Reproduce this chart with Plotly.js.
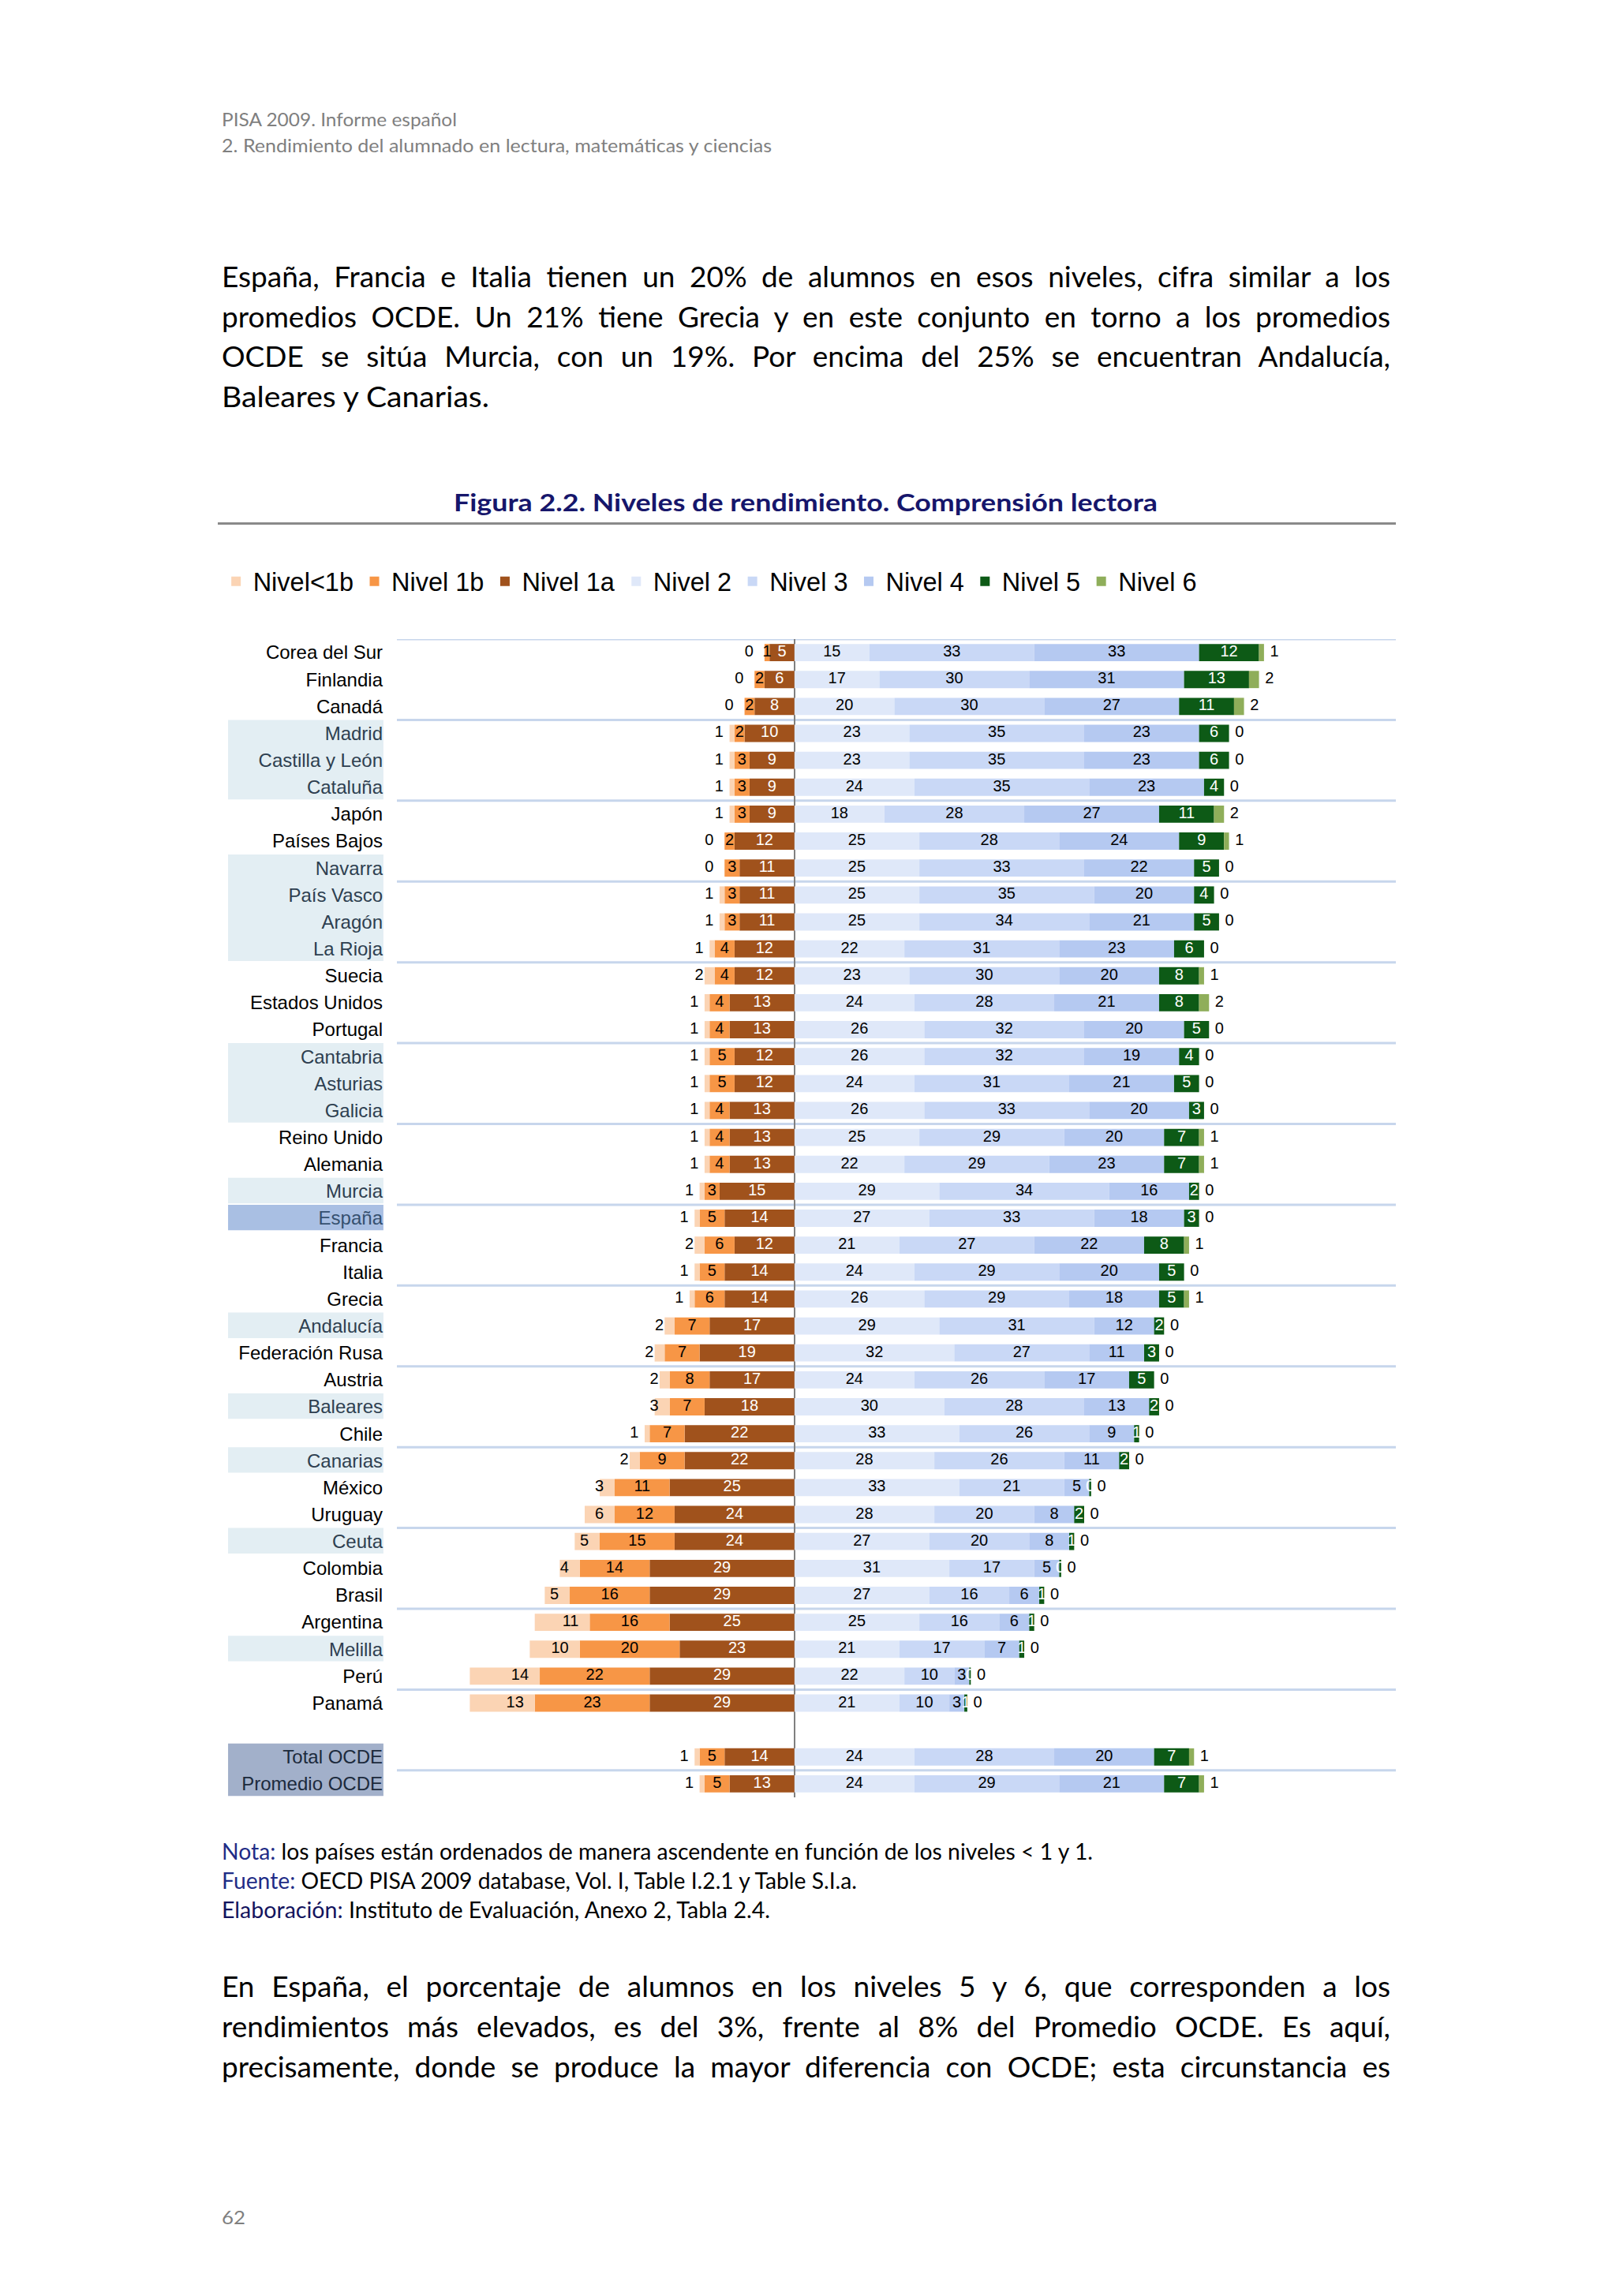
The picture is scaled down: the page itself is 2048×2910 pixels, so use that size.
<!DOCTYPE html>
<html>
<head>
<meta charset="utf-8">
<script src="https://cdn.plot.ly/plotly-3.0.1.min.js"></script>
<style>
  html, body { margin: 0; padding: 0; background: #fff; }
  #page { position: relative; width: 2048px; height: 2910px; overflow: hidden; background: #fff; font-family: Lato, "Open Sans", sans-serif; }
  .t { position: absolute; white-space: nowrap; line-height: 1; }
  #chart { position: absolute; left: 0; top: 690px; width: 2048px; height: 1620px; }
  #rule { position: absolute; left: 276px; top: 662px; width: 1493px; height: 3px; background: #8a8a8a; }
</style>
</head>
<body>
<div id="page">
  <div id="rule"></div>
  <div id="chart"></div>
</div>
<script>
// ---------------- DATA ----------------
const categories = [
  "Corea del Sur","Finlandia","Canadá","Madrid","Castilla y León","Cataluña","Japón","Países Bajos",
  "Navarra","País Vasco","Aragón","La Rioja","Suecia","Estados Unidos","Portugal","Cantabria",
  "Asturias","Galicia","Reino Unido","Alemania","Murcia","España","Francia","Italia","Grecia",
  "Andalucía","Federación Rusa","Austria","Baleares","Chile","Canarias","México","Uruguay","Ceuta",
  "Colombia","Brasil","Argentina","Melilla","Perú","Panamá","","Total OCDE","Promedio OCDE"
];
// kind of row label: c = country, r = Spanish region, e = España, o = OCDE
const rowKind = [
  "c","c","c","r","r","r","c","c","r","r","r","r","c","c","c","r","r","r","c","c","r","e","c","c","c",
  "r","c","c","r","c","r","c","c","r","c","c","c","r","c","c","c","o","o"
];
const nivelMenos1b = [0,0,0,1,1,1,1,0,0,1,1,1,2,1,1,1,1,1,1,1,1,1,2,1,1,2,2,2,3,1,2,3,6,5,4,5,11,10,14,13,null,1,1];
const nivel1b      = [1,2,2,2,3,3,3,2,3,3,3,4,4,4,4,5,5,4,4,4,3,5,6,5,6,7,7,8,7,7,9,11,12,15,14,16,16,20,22,23,null,5,5];
const nivel1a      = [5,6,8,10,9,9,9,12,11,11,11,12,12,13,13,12,12,13,13,13,15,14,12,14,14,17,19,17,18,22,22,25,24,24,29,29,25,23,29,29,null,14,13];
const nivel2       = [15,17,20,23,23,24,18,25,25,25,25,22,23,24,26,26,24,26,25,22,29,27,21,24,26,29,32,24,30,33,28,33,28,27,31,27,25,21,22,21,null,24,24];
const nivel3       = [33,30,30,35,35,35,28,28,33,35,34,31,30,28,32,32,31,33,29,29,34,33,27,29,29,31,27,26,28,26,26,21,20,20,17,16,16,17,10,10,null,28,29];
const nivel4       = [33,31,27,23,23,23,27,24,22,20,21,23,20,21,20,19,21,20,20,23,16,18,22,20,18,12,11,17,13,9,11,5,8,8,5,6,6,7,3,3,null,20,21];
const nivel5       = [12,13,11,6,6,4,11,9,5,4,5,6,8,8,5,4,5,3,7,7,2,3,8,5,5,2,3,5,2,1,2,0.4,2,1,0.4,1,1,1,0.3,0.6,null,7,7];
const nivel6       = [1,2,2,0,0,0,2,1,0,0,0,0,1,2,0,0,0,0,1,1,0,0,1,0,1,0,0,0,0,0,0,0,0,0,0,0,0,0,0,0,null,1,1];
const seriesNames  = ["Nivel<1b","Nivel 1b","Nivel 1a","Nivel 2","Nivel 3","Nivel 4","Nivel 5","Nivel 6"];

// ---------------- STYLE ----------------
const colors = {
  lt1b: "#fbd4b4", n1b: "#f79646", n1a: "#a0521c",
  n2: "#dfe8f9", n3: "#c9d8f6", n4: "#b5c9f1", n5: "#0d5a16", n6: "#8fae5a"
};
const labelColor = { c: "#000000", r: "#2e3f50", e: "#35506f", o: "#1c2a3c" };
const boxColor = { r: "#e3eef3", e: "#a9bfe3", o: "#a2b0ca" };
const chartFont = "Liberation Sans, Arial, sans-serif";

const yIdx = categories.map((_, i) => i + 1);
const neg = arr => arr.map(v => v == null ? null : -v);

function barTrace(name, xs, color, rank) {
  return {
    type: "bar", orientation: "h", name: name, x: xs, y: yIdx,
    marker: { color: color, line: { width: 0 } },
    textposition: "none", hoverinfo: "skip", legendrank: rank
  };
}

const traces = [
  barTrace(seriesNames[2], neg(nivel1a), colors.n1a, 3),
  barTrace(seriesNames[1], neg(nivel1b), colors.n1b, 2),
  barTrace(seriesNames[0], neg(nivelMenos1b), colors.lt1b, 1),
  barTrace(seriesNames[3], nivel2, colors.n2, 4),
  barTrace(seriesNames[4], nivel3, colors.n3, 5),
  barTrace(seriesNames[5], nivel4, colors.n4, 6),
  barTrace(seriesNames[6], nivel5, colors.n5, 7),
  barTrace(seriesNames[7], nivel6, colors.n6, 8)
];

// value labels, positioned from the data
const dark = { x: [], y: [], t: [] }, white = { x: [], y: [], t: [] };
const leftL = { x: [], y: [], t: [] }, rightL = { x: [], y: [], t: [] };
const lab = v => String(Math.round(v));
for (let i = 0; i < categories.length; i++) {
  if (nivel1a[i] == null) continue;
  const y = yIdx[i];
  const a = nivel1a[i], b = nivel1b[i], c = nivelMenos1b[i];
  white.x.push(-a / 2); white.y.push(y); white.t.push(lab(a));
  dark.x.push(-(a + b / 2)); dark.y.push(y); dark.t.push(lab(b));
  leftL.x.push(-(a + b) - 2.2); leftL.y.push(y); leftL.t.push(lab(c));
  const p2 = nivel2[i], p3 = nivel3[i], p4 = nivel4[i], p5 = nivel5[i], p6 = nivel6[i];
  dark.x.push(p2 / 2); dark.y.push(y); dark.t.push(lab(p2));
  dark.x.push(p2 + p3 / 2); dark.y.push(y); dark.t.push(lab(p3));
  dark.x.push(p2 + p3 + p4 / 2); dark.y.push(y); dark.t.push(lab(p4));
  white.x.push(p2 + p3 + p4 + p5 / 2); white.y.push(y); white.t.push(lab(p5));
  rightL.x.push(p2 + p3 + p4 + p5 + p6 + 1.2); rightL.y.push(y); rightL.t.push(lab(p6));
}
function textTrace(d, pos, color) {
  return {
    type: "scatter", mode: "text", x: d.x, y: d.y, text: d.t, textposition: pos,
    textfont: { family: chartFont, size: 20, color: color },
    showlegend: false, hoverinfo: "skip", cliponaxis: false
  };
}
traces.push(textTrace(dark, "middle center", "#000000"));
traces.push(textTrace(white, "middle center", "#ffffff"));
traces.push(textTrace(leftL, "middle left", "#000000"));
traces.push(textTrace(rightL, "middle right", "#000000"));

// shapes: separators every 3 rows, highlight boxes behind region labels
const shapes = [];
for (let k = 0; k <= 42; k += 3) {
  shapes.push({ type: "line", xref: "paper", yref: "y", x0: 0, x1: 1, y0: k + 0.5, y1: k + 0.5,
    line: { color: "#c7d6ec", width: 3 }, layer: "below" });
}
const boxX0 = -0.169, boxX1 = -0.0135;
let i0 = 0;
while (i0 < rowKind.length) {
  const k = rowKind[i0];
  if (k === "c") { i0++; continue; }
  let i1 = i0;
  while (i1 + 1 < rowKind.length && rowKind[i1 + 1] === k) i1++;
  shapes.push({ type: "rect", xref: "paper", yref: "y", x0: boxX0, x1: boxX1,
    y0: yIdx[i0] - 0.5, y1: yIdx[i1] + 0.45, fillcolor: boxColor[k], line: { width: 0 }, layer: "below" });
  i0 = i1 + 1;
}

const tickText = categories.map((c, i) => c === "" ? "" : '<span style="color:' + labelColor[rowKind[i]] + '">' + c + '</span>');

const layout = {
  width: 2048, height: 1620,
  margin: { l: 503, r: 279, t: 120, b: 32 },
  paper_bgcolor: "rgba(0,0,0,0)", plot_bgcolor: "rgba(0,0,0,0)",
  barmode: "relative", bargap: 0.36,
  font: { family: chartFont, color: "#000" },
  xaxis: { range: [-79.6, 120.4], showgrid: false, showticklabels: false, ticks: "",
           zeroline: true, zerolinecolor: "#808080", zerolinewidth: 2, fixedrange: true },
  yaxis: { range: [43.5, 0.5], tickmode: "array", tickvals: yIdx, ticktext: tickText,
           showgrid: false, zeroline: false, ticks: "", ticklabelstandoff: 17,
           tickfont: { family: chartFont, size: 24, color: "#000" }, fixedrange: true },
  showlegend: true,
  legend: { orientation: "h", x: -0.178, xanchor: "left", y: 1.0497, yanchor: "middle",
            font: { family: chartFont, size: 32.5, color: "#000" }, traceorder: "normal",
            itemwidth: 33, itemclick: false, itemdoubleclick: false, bgcolor: "rgba(0,0,0,0)" },
  shapes: shapes
};

Plotly.newPlot("chart", traces, layout, { staticPlot: true, displayModeBar: false });

// ---------------- PAGE TEXT ----------------
const page = document.getElementById("page");
function place(html, left, cy, size, opt) {
  opt = opt || {};
  const d = document.createElement("div");
  d.className = "t";
  d.style.left = left + "px";
  d.style.fontSize = size + "px";
  d.style.color = opt.color || "#000";
  if (opt.bold) d.style.fontWeight = "700";
  d.innerHTML = html;
  page.appendChild(d);
  const r = d.getBoundingClientRect();
  d.style.top = (cy - r.height / 2) + "px";
  if (opt.width) {
    const w = r.width;
    const spaces = (d.textContent.match(/ /g) || []).length;
    if (opt.justify && w < opt.width && spaces > 0) {
      d.style.wordSpacing = ((opt.width - w) / spaces) + "px";
    } else {
      d.style.transformOrigin = "0 50%";
      d.style.transform = "scaleX(" + (opt.width / w) + ")";
    }
  }
  return d;
}
function build() {
  const gray = "#7f7f7f";
  place("PISA 2009. Informe español", 281, 151, 24, { color: gray, width: 298 });
  place("2. Rendimiento del alumnado en lectura, matemáticas y ciencias", 281, 184, 24, { color: gray, width: 697 });

  const p1 = [
    "España, Francia e Italia tienen un 20% de alumnos en esos niveles, cifra similar a los",
    "promedios OCDE. Un 21% tiene Grecia y en este conjunto en torno a los promedios",
    "OCDE se sitúa Murcia, con un 19%. Por encima del 25% se encuentran Andalucía,"
  ];
  const p1y = [349, 400, 450];
  p1.forEach((s, k) => place(s, 281, p1y[k], 37, { width: 1481, justify: true }));
  place("Baleares y Canarias.", 281, 501, 37, { width: 339 });

  place("Figura 2.2. Niveles de rendimiento. Comprensión lectora", 575, 636, 31, { color: "#16166b", bold: true, width: 892 });

  const blue = "#1f2c86";
  place('<span style="color:' + blue + '">Nota:</span> los países están ordenados de manera ascendente en función de los niveles &lt; 1 y 1.', 281, 2346, 28, { width: 1104 });
  place('<span style="color:' + blue + '">Fuente:</span> OECD PISA 2009 database, Vol. I, Table I.2.1 y Table S.I.a.', 281, 2383, 28, { width: 805 });
  place('<span style="color:#14145e">Elaboración:</span> Instituto de Evaluación, Anexo 2, Tabla 2.4.', 281, 2420, 28, { width: 695 });

  const p2 = [
    "En España, el porcentaje de alumnos en los niveles 5 y 6, que corresponden a los",
    "rendimientos más elevados, es del 3%, frente al 8% del Promedio OCDE. Es aquí,",
    "precisamente, donde se produce la mayor diferencia con OCDE; esta circunstancia es"
  ];
  const p2y = [2516, 2567, 2618];
  p2.forEach((s, k) => place(s, 281, p2y[k], 37, { width: 1481, justify: true }));

  place("62", 281, 2810, 24, { color: gray, width: 30 });
}
if (document.fonts && document.fonts.ready) { document.fonts.ready.then(build); } else { build(); }
</script>
</body>
</html>
